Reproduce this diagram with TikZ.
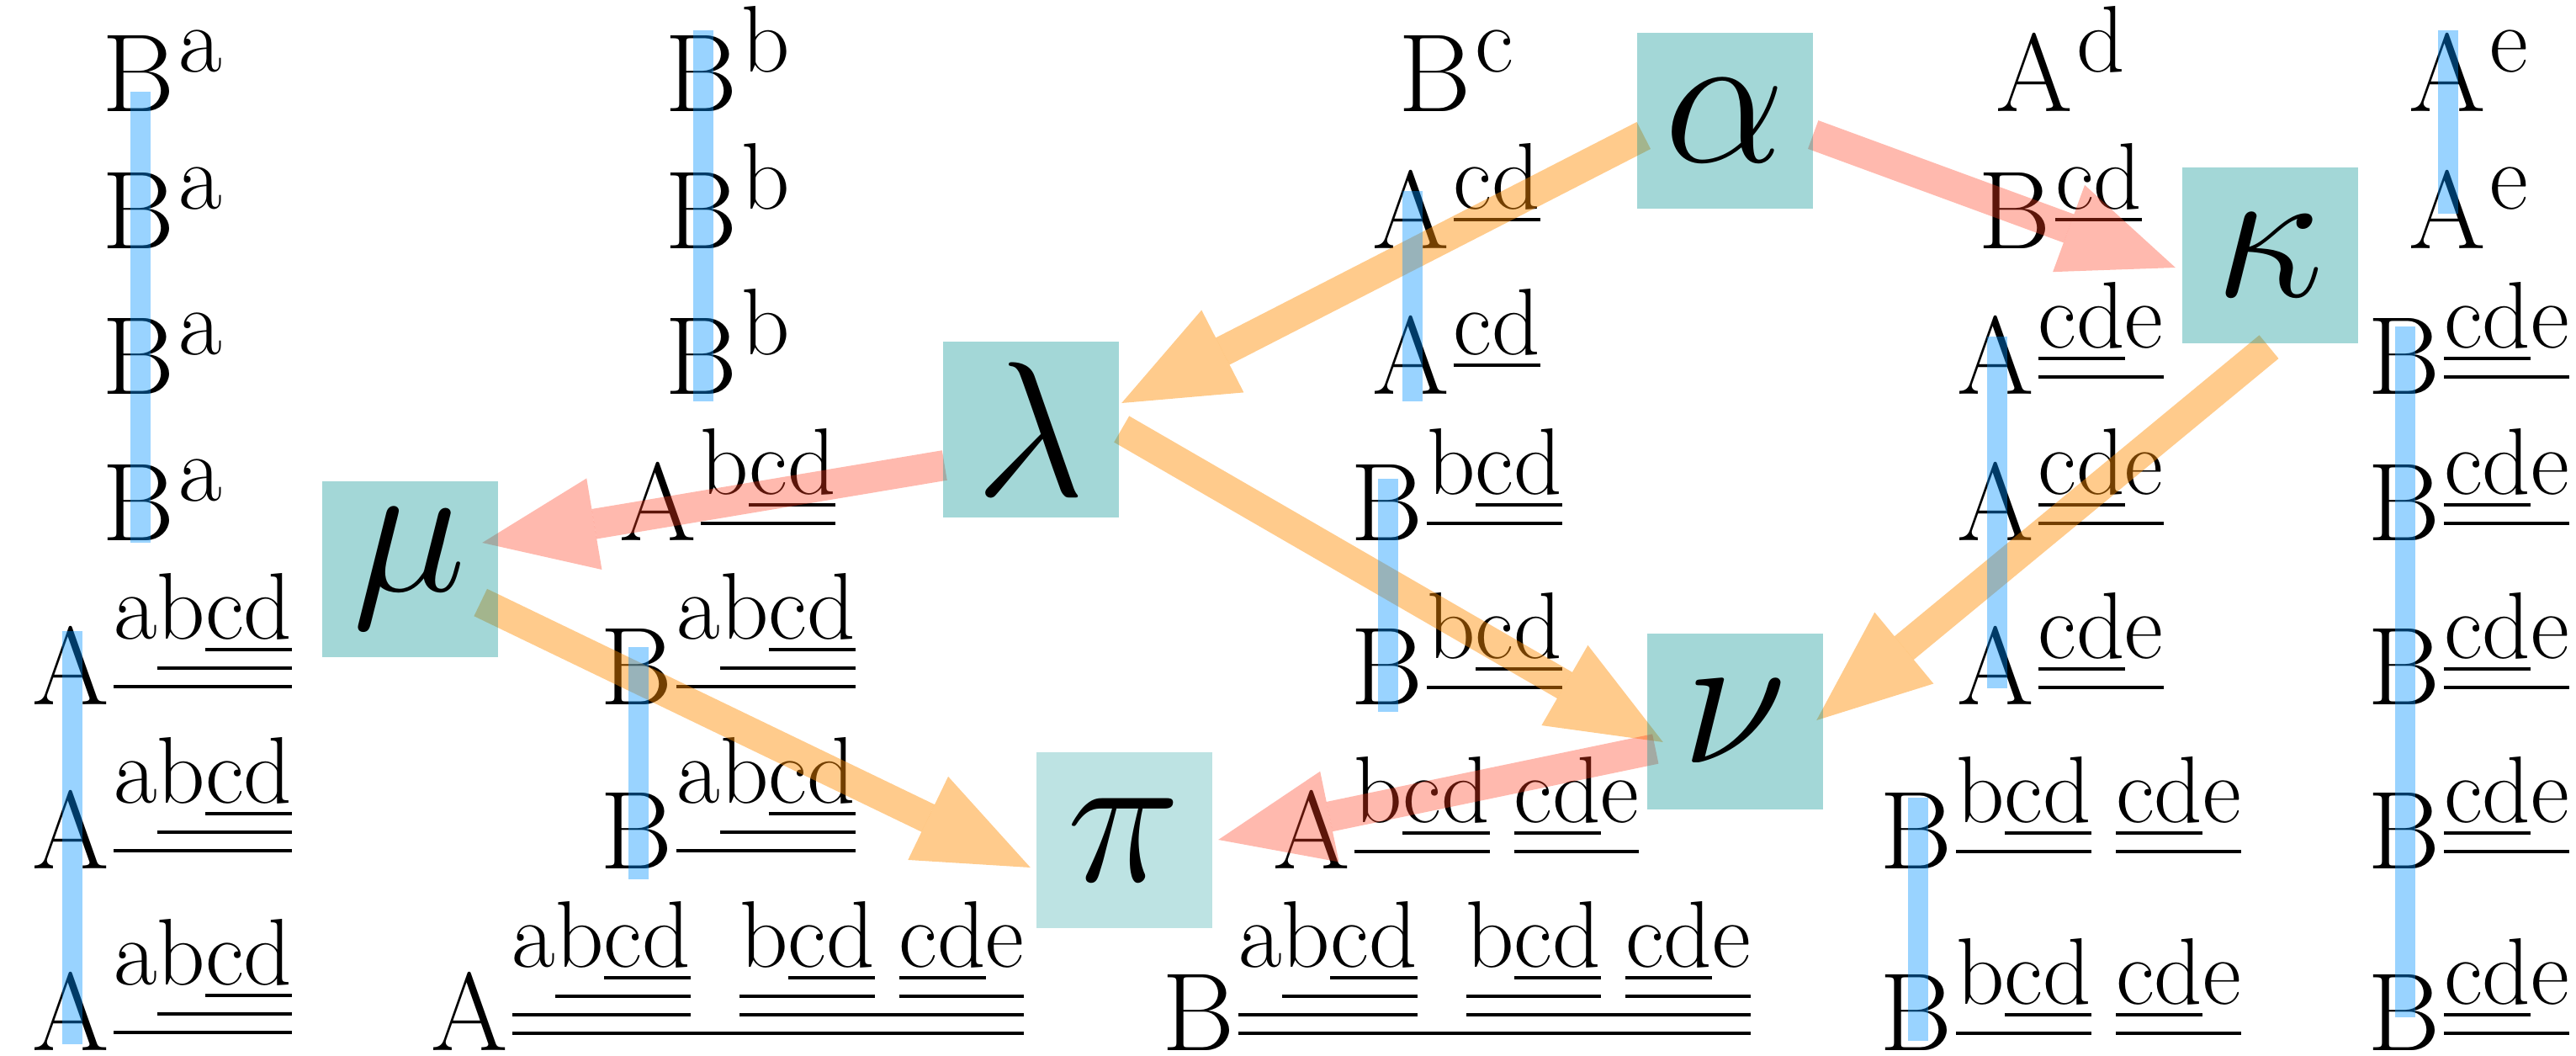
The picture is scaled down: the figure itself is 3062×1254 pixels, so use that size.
\RequirePackage{fix-cm}
\documentclass[tikz,border=0pt]{standalone}
\usepackage{tikz}
\usetikzlibrary{arrows.meta}
\definecolor{boxteal}{RGB}{0,145,145}
\definecolor{arrorange}{RGB}{255,140,0}
\definecolor{arrred}{RGB}{255,60,30}
\definecolor{barblue}{RGB}{0,145,255}
% one underline level: text, gap, rule, clearance
\newcommand{\ul}[1]{\vtop{\hbox{#1}\kern1.0mm\hrule height0.45mm\kern0.75mm}}
\newcommand{\ucd}{\ul{cd}}
\newcommand{\ubcd}{\ul{b\ul{cd}}}
\newcommand{\ucde}{\ul{\ul{cd}e}}
\newcommand{\uabcd}{\ul{a\ul{b\ul{cd}}}}
\newcommand{\uall}{\ul{\uabcd\kern5.8mm\ul{\ubcd\kern2.9mm\ucde}}}
% letter with raised superscript
\newcommand{\lbl}[3]{#1\kern0.5mm\raisebox{#2}{\fontsize{32}{32}\selectfont#3}}
\pgfdeclarelayer{labels}
\pgfdeclarelayer{links}
\pgfdeclarelayer{bars}
\pgfsetlayers{labels,links,main,bars}

\begin{document}
\begin{tikzpicture}[
  x=0.1mm, y=-0.1mm,
  lab/.style={anchor=base,inner sep=0pt,font=\fontsize{37.5}{45}\selectfont},
  gbox/.style={minimum size=20.9mm,inner sep=0pt,fill=boxteal,fill opacity=0.36,text opacity=1,font=\fontsize{65}{70}\selectfont},
  pale/.style={fill opacity=0.26},
  fwd/.style={draw=arrorange,line width=3.6mm,opacity=0.45,-{Triangle[length=13.5mm,width=11mm,line width=0pt]}},
  back/.style={draw=arrred,line width=3.6mm,opacity=0.36,-{Triangle[length=13.5mm,width=11mm,line width=0pt]}},
  bar/.style={draw=barblue,line width=2.4mm,opacity=0.4}]
  \useasboundingbox (0,0) rectangle (3062,1254);

  \begin{pgfonlayer}{labels}
  % column 1
  \foreach \r/\y in {1/132,2/295,3/468,4/642}
    \node[lab] (c1r\r) at (193,\y) {\lbl{B}{4.7mm}{a}};
  \foreach \r/\y in {5/837,6/1032,7/1248}
    \node[lab] (c1r\r) at (193,\y) {\lbl{A}{7.8mm}{\uabcd}};
  % column 2
  \foreach \r/\y in {1/132,2/295,3/468}
    \node[lab] (c2r\r) at (865,\y) {\lbl{B}{4.7mm}{b}};
  \node[lab] (c2r4) at (865,642) {\lbl{A}{5.5mm}{\ubcd}};
  \foreach \r/\y in {5/837,6/1032}
    \node[lab] (c2r\r) at (865,\y) {\lbl{B}{7.8mm}{\uabcd}};
  \node[lab] (c2r7) at (865,1248) {\lbl{A}{9.9mm}{\uall}};
  % column 3
  \node[lab] (c3r1) at (1731,132) {\lbl{B}{4.7mm}{c}};
  \foreach \r/\y in {2/295,3/468}
    \node[lab] (c3r\r) at (1731,\y) {\lbl{A}{4.7mm}{\ucd}};
  \foreach \r/\y in {4/642,5/837}
    \node[lab] (c3r\r) at (1731,\y) {\lbl{B}{5.5mm}{\ubcd}};
  \node[lab] (c3r6) at (1731,1032) {\lbl{A}{5.5mm}{\ubcd\kern2.9mm\ucde}};
  \node[lab] (c3r7) at (1731,1248) {\lbl{B}{9.9mm}{\uall}};
  % column 4
  \node[lab] (c4r1) at (2449,132) {\lbl{A}{4.7mm}{d}};
  \node[lab] (c4r2) at (2449,295) {\lbl{B}{4.7mm}{\ucd}};
  \foreach \r/\y in {3/468,4/642,5/837}
    \node[lab] (c4r\r) at (2449,\y) {\lbl{A}{5.5mm}{\ucde}};
  \foreach \r/\y in {6/1032,7/1248}
    \node[lab] (c4r\r) at (2449,\y) {\lbl{B}{5.5mm}{\ubcd\kern2.9mm\ucde}};
  % column 5
  \foreach \r/\y in {1/132,2/295}
    \node[lab] (c5r\r) at (2934,\y) {\lbl{A}{4.7mm}{e}};
  \foreach \r/\y in {3/468,4/642,5/837,6/1032,7/1248}
    \node[lab] (c5r\r) at (2934,\y) {\lbl{B}{5.5mm}{\ucde}};
  \end{pgfonlayer}

  \node[gbox] (alpha) at (2050,143) {$\alpha$};
  \node[gbox] (kappa) at (2698,303) {$\kappa$};
  \node[gbox] (lambda) at (1225,510) {$\lambda$};
  \node[gbox] (mu) at (487,676) {$\mu$};
  \node[gbox] (nu) at (2062,857) {$\nu$};
  \node[gbox,pale] (pi) at (1336,998) {$\pi$};

  \begin{pgfonlayer}{links}
  \draw[fwd] ([shift={(9,18)}]alpha.west) -- ([shift={(3,-31)}]lambda.east);
  \draw[back] ([shift={(0,17)}]alpha.east) -- ([shift={(-7,15)}]kappa.west);
  \draw[fwd] ([shift={(-1,4)}]kappa.south) -- ([shift={(-8,-1)}]nu.east);
  \draw[back] ([shift={(3,43)}]lambda.west) -- ([shift={(-19,-31)}]mu.east);
  \draw[fwd] ([shift={(3,0)}]lambda.east) -- ([shift={(20,25)}]nu.west);
  \draw[fwd] ([shift={(-21,40)}]mu.east) -- ([shift={(-6,33)}]pi.west);
  \draw[back] ([shift={(11,33)}]nu.west) -- ([shift={(7,0)}]pi.east);
  \end{pgfonlayer}

  \begin{pgfonlayer}{bars}
  \draw[bar] ([shift={(46,-23)}]c1r1.base west) -- ([shift={(46,3)}]c1r4.base west);
  \draw[bar] ([shift={(48,-87)}]c1r5.base west) -- ([shift={(48,-7)}]c1r7.base west);
  \draw[bar] ([shift={(46,-96)}]c2r1.base west) -- ([shift={(46,9)}]c2r3.base west);
  \draw[bar] ([shift={(46,-68)}]c2r5.base west) -- ([shift={(46,13)}]c2r6.base west);
  \draw[bar] ([shift={(48,-68)}]c3r2.base west) -- ([shift={(48,9)}]c3r3.base west);
  \draw[bar] ([shift={(46,-73)}]c3r4.base west) -- ([shift={(46,9)}]c3r5.base west);
  \draw[bar] ([shift={(48,-68)}]c4r3.base west) -- ([shift={(48,-19)}]c4r5.base west);
  \draw[bar] ([shift={(46,-84)}]c4r6.base west) -- ([shift={(46,-11)}]c4r7.base west);
  \draw[bar] ([shift={(48,-96)}]c5r1.base west) -- ([shift={(48,-41)}]c5r2.base west);
  \draw[bar] ([shift={(46,-80)}]c5r3.base west) -- ([shift={(46,-39)}]c5r7.base west);
  \end{pgfonlayer}
\end{tikzpicture}
\end{document}
